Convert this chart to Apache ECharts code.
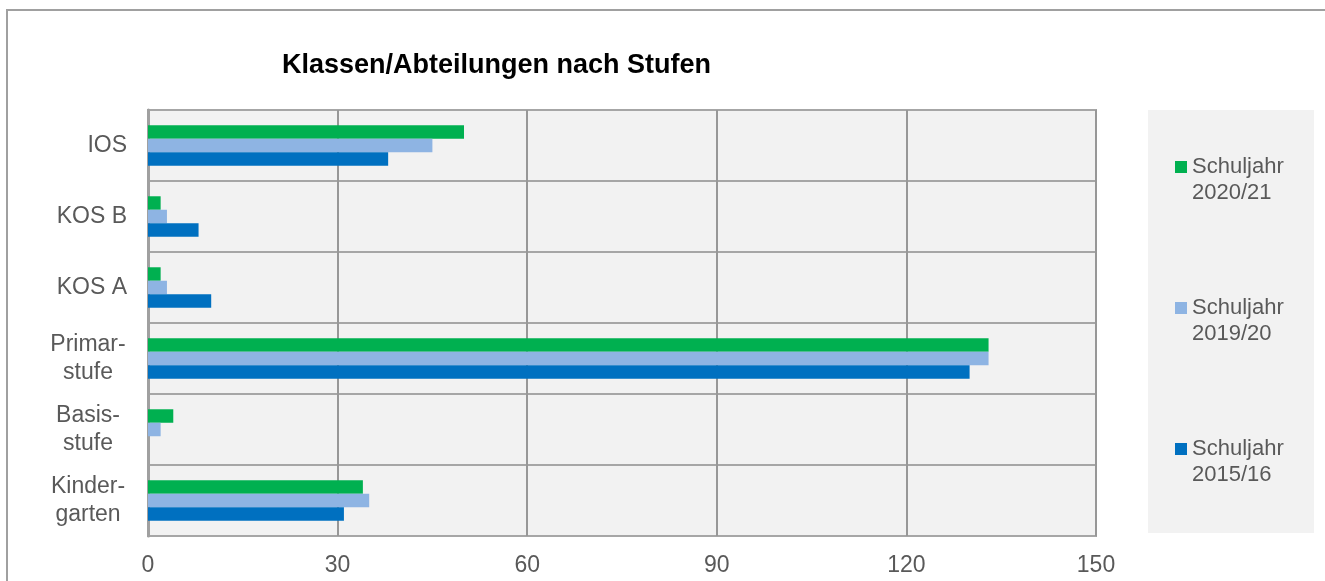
<!DOCTYPE html>
<html>
<head>
<meta charset="utf-8">
<script src="https://cdn.jsdelivr.net/npm/echarts@6/dist/echarts.min.js"></script>
<style>
  html, body { margin: 0; padding: 0; background: #fff; }
  #chart { width: 1325px; height: 581px; }
</style>
</head>
<body>
<div id="chart"></div>
<script>
// Stufen von unten nach oben
var categories = ['Kinder-\ngarten', 'Basis-\nstufe', 'Primar-\nstufe', 'KOS A', 'KOS B', 'IOS'];
var seriesNames = ['Schuljahr 2020/21', 'Schuljahr 2019/20', 'Schuljahr 2015/16'];
var values2021 = [34, 4, 133, 2, 2, 50];
var values1920 = [35, 2, 133, 3, 3, 45];
var values1516 = [31, 0, 130, 10, 8, 38];
var xTicks = [0, 30, 60, 90, 120, 150];

var colors = ['#00b050', '#8eb4e3', '#0070c0'];
var fontFamily = '"Liberation Sans", Arial, sans-serif';

var myChart = echarts.init(document.getElementById('chart'));

function barSeries(name, data, color) {
  return {
    name: name,
    type: 'bar',
    data: data,
    barGap: '0%',
    barCategoryGap: '43%',
    itemStyle: { color: color },
    emphasis: { disabled: true }
  };
}

var option = {
  animation: false,
  textStyle: { fontFamily: fontFamily },
  title: {
    text: 'Klassen/Abteilungen nach Stufen',
    left: 277,
    top: 47,
    textStyle: { fontSize: 27, fontWeight: 'bold', color: '#000', fontFamily: fontFamily }
  },
  graphic: [
    { type: 'rect', shape: { x: 7, y: 10, width: 1340, height: 600 },
      style: { fill: 'none', stroke: '#a0a0a0', lineWidth: 2 }, z: -10 },
    { type: 'rect', shape: { x: 1148, y: 110, width: 166, height: 423 },
      style: { fill: '#f2f2f2' }, z: -10 }
  ],
  legend: {
    orient: 'vertical',
    left: 1175,
    top: 128,
    padding: 0,
    itemWidth: 12,
    itemHeight: 12,
    itemGap: 63,
    icon: 'rect',
    data: seriesNames,
    formatter: function (name) { return '\n' + name.replace(' ', '\n'); },
    textStyle: { fontSize: 22, lineHeight: 26, color: '#595959', fontFamily: fontFamily }
  },
  grid: {
    left: 148, right: 229, top: 110, bottom: 45,
    show: true,
    backgroundColor: '#f2f2f2',
    borderColor: '#a0a0a0',
    borderWidth: 2
  },
  xAxis: {
    type: 'value',
    min: xTicks[0],
    max: xTicks[xTicks.length - 1],
    interval: 30,
    axisLine: { show: false },
    axisTick: { show: false },
    axisLabel: { fontSize: 23, color: '#595959', margin: 18, fontFamily: fontFamily },
    splitLine: { lineStyle: { color: '#979797', width: 2 } }
  },
  yAxis: {
    type: 'category',
    data: categories,
    axisLine: { show: true, lineStyle: { color: '#a0a0a0', width: 3 } },
    axisTick: { show: false },
    splitLine: { show: true, interval: 0, lineStyle: { color: '#a6a6a6', width: 2 } },
    axisLabel: {
      interval: 0,
      fontSize: 23,
      lineHeight: 28,
      color: '#595959',
      margin: 21,
      align: 'right',
      fontFamily: fontFamily,
      formatter: function (v) {
        return v.indexOf('\n') >= 0 ? '{m|' + v + '}' : v;
      },
      rich: {
        m: { width: 78, align: 'center', fontSize: 23, lineHeight: 28, color: '#595959', fontFamily: fontFamily }
      }
    }
  },
  series: [
    barSeries(seriesNames[0], values2021, colors[0]),
    barSeries(seriesNames[1], values1920, colors[1]),
    barSeries(seriesNames[2], values1516, colors[2])
  ]
};

myChart.setOption(option);
</script>
</body>
</html>
